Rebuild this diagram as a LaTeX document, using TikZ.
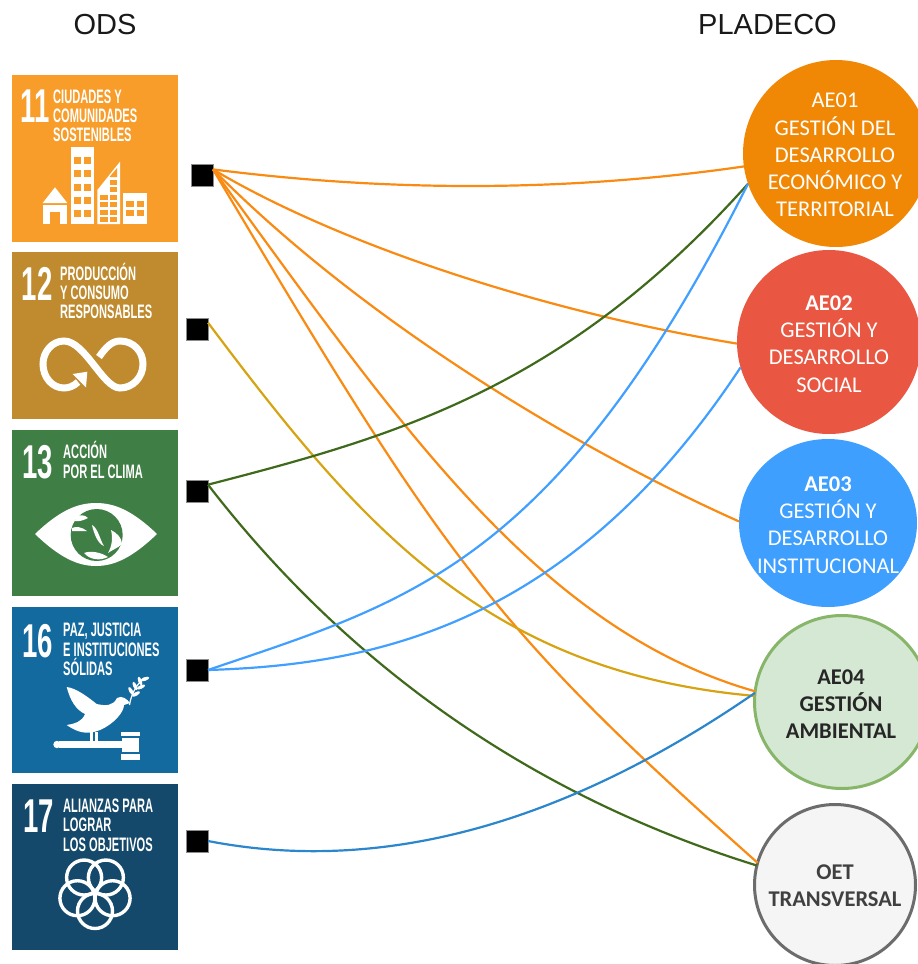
\documentclass[tikz,border=0pt]{standalone}
\usepackage{fontspec}
\setmainfont{Liberation Sans}
\newfontfamily\calib{Carlito}
\usetikzlibrary{shapes.geometric}
\definecolor{cOrange}{HTML}{F98A12}
\definecolor{cGold}{HTML}{D6A312}
\definecolor{cGreen}{HTML}{3F6A1C}
\definecolor{cSky}{HTML}{409FFF}
\definecolor{cBlue}{HTML}{2B86CC}
\definecolor{sdgA}{HTML}{F89D2A}
\definecolor{sdgB}{HTML}{BF8B2E}
\definecolor{sdgC}{HTML}{3F7E44}
\definecolor{sdgD}{HTML}{136A9F}
\definecolor{sdgE}{HTML}{14496B}
\definecolor{orbA}{RGB}{240,136,6}
\definecolor{orbB}{RGB}{233,87,66}
\definecolor{orbC}{RGB}{62,159,255}
\definecolor{orbD}{RGB}{213,232,212}
\definecolor{orbDline}{RGB}{135,182,106}
\definecolor{orbE}{RGB}{245,245,245}
\definecolor{orbEline}{RGB}{108,108,108}
\tikzset{
  tilebox/.style={rectangle,draw=none,minimum size=166.5pt,inner sep=0pt,outer sep=0pt},
  sqbox/.style={rectangle,fill=black,draw=black!45,line width=.5pt,minimum size=22pt,inner sep=0pt,outer sep=0pt},
  lnk/.style={line width=2.2pt},
  orb/.style={ellipse,inner sep=0pt,outer sep=0pt},
  orbtext/.style={align=center,inner sep=0pt,font=\calib\fontsize{22.5}{27.2}\selectfont,text=white},
  orbdark/.style={align=center,inner sep=0pt,font=\calib\bfseries\fontsize{22.5}{27.2}\selectfont},
  heading/.style={font=\fontsize{29}{32}\selectfont,text=black!90,inner sep=0pt},
  num/.style={anchor=base west,inner sep=0pt,text=white,font=\bfseries\fontsize{47.5}{48}\selectfont},
  tline/.style={anchor=base west,inner sep=0pt,text=white,font=\bfseries\fontsize{19.5}{19.5}\selectfont},
}
\newcommand{\tnum}[4]{\node[num] (#1) at (#2,#3) {\scalebox{.58}[1]{#4}};}
\newcommand{\tline}[4]{\node[tline] (#1) at (#2,#3) {\scalebox{.57}[1]{#4}};}
\begin{document}
\begin{tikzpicture}[x=1pt,y=-1pt]
\useasboundingbox (0,0) rectangle (918,964);
\clip (0,0) rectangle (918,964);
% headings
\node[heading] (hods) at (105,25) {ODS};
\node[heading] (hpla) at (767.5,25) {PLADECO};
% tiles
\node[tilebox,fill=sdgA] (t11) at (95,158.3) {};
\node[tilebox,fill=sdgB] (t12) at (95,335.5) {};
\node[tilebox,fill=sdgC] (t13) at (95,513) {};
\node[tilebox,fill=sdgD] (t16) at (95,690) {};
\node[tilebox,fill=sdgE] (t17) at (95,867) {};
% tile texts
\tnum{n11}{20.5}{122}{11}
\tline{a1}{53}{103}{CIUDADES Y}
\tline{a2}{53}{122}{COMUNIDADES}
\tline{a3}{53}{141}{SOSTENIBLES}
\tnum{n12}{21.5}{300}{12}
\tline{b1}{60}{280}{PRODUCCIÓN}
\tline{b2}{60}{299}{Y CONSUMO}
\tline{b3}{60}{318}{RESPONSABLES}
\tnum{n13}{22}{478}{13}
\tline{c1}{63}{458}{ACCIÓN}
\tline{c2}{63}{478}{POR EL CLIMA}
\tnum{n16}{22}{657}{16}
\tline{d1}{63}{636}{PAZ, JUSTICIA}
\tline{d2}{63}{656}{E INSTITUCIONES}
\tline{d3}{63}{675}{SÓLIDAS}
\tnum{n17}{23}{832}{17}
\tline{e1}{63}{812}{ALIANZAS PARA}
\tline{e2}{63}{831}{LOGRAR}
\tline{e3}{63}{851}{LOS OBJETIVOS}
% icon 11: city
\fill[white] (42.7,203) -- (55,187.3) -- (67.3,203) -- cycle;
\fill[white] (42.7,205) rectangle (67.3,224);
\fill[sdgA] (50,212) rectangle (60,224);
\fill[white] (70.7,147.3) rectangle (94,224);
\foreach \yy in {157,170,184,197,210}{
  \fill[sdgA] (74,\yy) rectangle (80.5,\yy+6.5);
  \fill[sdgA] (84,\yy) rectangle (90.5,\yy+6.5);
}
\fill[white] (97.3,190) -- (120,161.7) -- (120,224) -- (97.3,224) -- cycle;
\fill[sdgA] (109.5,177) -- (117,168) -- (117,177) -- cycle;
\foreach \yy in {180,187,195,202,210,217}{
  \fill[sdgA] (110,\yy) rectangle (117,\yy+4.5);
}
\foreach \yy in {195,202,210,217}{
  \fill[sdgA] (100,\yy) rectangle (107.5,\yy+4.5);
}
\fill[white] (123.3,193) rectangle (146.7,224);
\fill[sdgA] (126,201) rectangle (134,207);
\fill[sdgA] (136.5,201) rectangle (144,207);
\fill[sdgA] (126,210) rectangle (134,216);
\fill[sdgA] (136.5,210) rectangle (144,216);
% icon 12: infinity
\draw[white,line width=7pt]
  (99,357) .. controls (106,347) and (112,341) .. (120,341)
  .. controls (134,341) and (143,352) .. (143,364)
  .. controls (143,377) and (133,388) .. (120,388)
  .. controls (103,388) and (85,341) .. (64,341)
  .. controls (52,341) and (43,352) .. (43,364)
  .. controls (43,377) and (52,388) .. (64,388)
  .. controls (69,388) and (74,386) .. (78,382);
\fill[white] (72.7,374) -- (87.3,371.7) -- (86,387.3) -- cycle;
% icon 13: eye and globe
\fill[white] (35,534) .. controls (60,510) and (78,503) .. (96,503)
  .. controls (114,503) and (132,510) .. (157,534)
  .. controls (132,558) and (114,566) .. (96,566)
  .. controls (78,566) and (60,558) .. (35,534) -- cycle;
\fill[sdgC] (96.7,535) circle (26);
\fill[white] (76,517) .. controls (80,514) and (85,515) .. (88,518) .. controls (84,520) and (79,522) .. (75,521) -- cycle;
\fill[white] (72,528) .. controls (76,526) and (82,527) .. (87,531) .. controls (82,531) and (76,531) .. (72,531) -- cycle;
\fill[white] (92,525) .. controls (98,528) and (100,540) .. (104,546) .. controls (98,544) and (94,534) .. (92,525) -- cycle;
\fill[white] (111,530) .. controls (117,533) and (122,538) .. (122,544) .. controls (118,548) and (112,550) .. (108,553) .. controls (112,546) and (113,538) .. (111,530) -- cycle;
\fill[white] (84,553) .. controls (92,550) and (102,553) .. (108,557) .. controls (100,561) and (90,560) .. (84,553) -- cycle;
% icon 16: dove and gavel
\fill[white] (66.7,687) .. controls (76,688) and (88,697) .. (96.7,704)
  .. controls (106,706) and (113,706) .. (117,698)
  .. controls (122,695) and (127,699) .. (130,703) -- (124,705)
  .. controls (124,712) and (114,724) .. (100,730)
  .. controls (88,735) and (78,733) .. (66.7,725)
  .. controls (74,724) and (82,722) .. (85,714)
  .. controls (76,710) and (70,700) .. (66.7,687) -- cycle;
\fill[white] (90,732) rectangle (93,743);
\fill[white] (94.5,732) rectangle (97.5,743);
\fill[white] (58.5,741) rectangle (122,748);
\fill[white] (57,744.5) circle (3.7);
\fill[white] (120.7,732) rectangle (140,736);
\fill[white] (122,737.5) rectangle (139,752);
\fill[white] (120.7,754) rectangle (140,760);
\draw[white,line width=1.2pt] (129.5,705) .. controls (131,695) and (136,685) .. (144,678);
\foreach \lx/\ly/\la in {131/691/120,135/686/115,140/681/110,136/694/30,141/687/25,145/679/20}{
  \fill[white,rotate around={\la:(\lx,\ly)}] (\lx,\ly) ellipse (4.5 and 1.8);
}
% icon 17: five rings
\foreach \ang in {90,162,234,306,18}{
  \draw[white,line width=3.4pt] (95,892.5) ++(\ang:18.5) circle (17.5);
}
% circles
\node[orb,fill=orbA,minimum width=186pt,minimum height=187pt] (ae1) at (836,153.5) {};
\node[orb,fill=orbB,minimum width=184pt,minimum height=184pt] (ae2) at (829,342) {};
\node[orb,fill=orbC,minimum width=178pt,minimum height=168pt] (ae3) at (828,523) {};
\node[orb,fill=orbD,draw=orbDline,line width=3pt,minimum width=175pt,minimum height=173pt] (ae4) at (842,702) {};
\node[orb,fill=orbE,draw=orbEline,line width=3pt,minimum width=161pt,minimum height=161pt] (oet) at (835,885) {};
% circle labels
\node[orbtext] (lae1) at (835,155) {AE01\\GESTIÓN DEL\\DESARROLLO\\ECONÓMICO Y\\TERRITORIAL};
\node[orbtext] (lae2) at (829,344) {\textbf{AE02}\\GESTIÓN Y\\DESARROLLO\\SOCIAL};
\node[orbtext] (lae3) at (828,525) {\textbf{AE03}\\GESTIÓN Y\\DESARROLLO\\INSTITUCIONAL};
\node[orbdark,text=black!85] (lae4) at (841,704) {AE04\\GESTIÓN\\AMBIENTAL};
\node[orbdark,text=black!75] (loet) at (835,886) {OET\\TRANSVERSAL};
% square markers
\node[sqbox] (s1) at (202,175) {};
\node[sqbox] (s2) at (197,329) {};
\node[sqbox] (s3) at (197,491) {};
\node[sqbox] (s4) at (197,670) {};
\node[sqbox] (s5) at (197,841) {};
% connectors
\draw[lnk,cOrange] (s1.27) .. controls (390,192) and (567,192) .. (ae1.188);
\draw[lnk,cOrange] (s1.27) .. controls (340,245) and (545,312) .. (ae2.181);
\draw[lnk,cOrange] (s1.27) .. controls (370,328) and (590,455) .. (ae3.179);
\draw[lnk,cOrange] (s1.27) .. controls (395,418) and (536,629) .. (ae4.173);
\draw[lnk,cOrange] (s1.27) .. controls (443,556) and (488,623) .. (oet.164);
\draw[lnk,cGold] (s2.30) .. controls (357,521) and (483,672) .. (ae4.176);
\draw[lnk,cGreen] (s3.30) .. controls (397,436) and (565,388) .. (ae1.199);
\draw[lnk,cGreen] (s3.30) .. controls (311,618) and (481,780) .. (oet.166);
\draw[lnk,cSky] (s4.east) .. controls (407,602) and (555,567) .. (ae1.199);
\draw[lnk,cSky] (s4.east) .. controls (369,665) and (568,629) .. (ae2.196);
\draw[lnk,cBlue] (s5.east) .. controls (388,876) and (572,819) .. (ae4.174);
\end{tikzpicture}
\end{document}
